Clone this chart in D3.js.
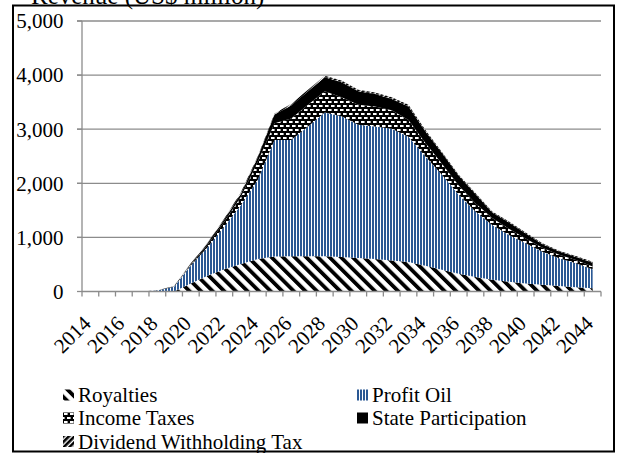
<!DOCTYPE html>
<html>
<head>
<meta charset="utf-8">
<script src="https://cdn.jsdelivr.net/npm/d3@7"></script>
<style>
  html, body { margin: 0; padding: 0; background: #fff; }
  svg { display: block; }
  text { font-family: "Liberation Serif", "Times New Roman", serif; fill: #000; }
</style>
</head>
<body>
<svg id="chart" width="624" height="453"></svg>
<script>
// ---- Data (US$ million) ----
const years = ["2014","2015","2016","2017","2018","2019","2020","2021","2022","2023","2024","2025","2026","2027","2028","2029","2030","2031","2032","2033","2034","2035","2036","2037","2038","2039","2040","2041","2042","2043","2044"];
const royalties          = [0,0,0,0,0,0,150,290,410,510,600,645,650,650,650,640,620,600,575,545,475,400,330,270,215,180,150,125,100,80,60];
const profitOil          = [0,0,0,0,20,90,330,530,790,1090,1465,2155,2150,2400,2660,2600,2460,2450,2435,2315,2025,1760,1460,1210,1015,865,740,610,515,440,350];
const incomeTaxes        = [0,0,0,0,2,5,20,40,90,155,335,310,400,400,390,350,370,370,340,310,250,200,170,150,130,115,90,75,65,60,50];
const stateParticipation = [0,0,0,0,2,3,10,30,40,55,80,160,240,250,260,280,250,230,210,250,210,200,180,170,100,115,90,65,60,60,70];
const dividendTax        = [0,0,0,0,1,2,10,10,20,30,20,20,30,30,30,30,30,30,30,30,30,20,20,20,20,20,20,15,15,15,20];
const seriesNames = ["Royalties","Profit Oil","Income Taxes","State Participation","Dividend Withholding Tax"];
const yTicks = [0,1000,2000,3000,4000,5000];
const xLabels = ["2014","2016","2018","2020","2022","2024","2026","2028","2030","2032","2034","2036","2038","2040","2042","2044"];
const titleText = "Revenue (US$ million)";

// ---- Layout ----
const svg = d3.select("#chart");
const plot = {left: 82, right: 601, top: 21, bottom: 291.5};
const FS = "21px";

const defs = svg.append("defs");
// Royalties: wide downward diagonal "\"
const pR = defs.append("pattern").attr("id","pRoy").attr("patternUnits","userSpaceOnUse")
  .attr("width",8.2).attr("height",8.2).attr("patternTransform","rotate(-45)");
pR.append("rect").attr("width",8.2).attr("height",8.2).attr("fill","#fff");
pR.append("rect").attr("width",3.8).attr("height",8.2).attr("fill","#000");
// Profit oil: blue vertical stripes
const pP = defs.append("pattern").attr("id","pPO").attr("patternUnits","userSpaceOnUse")
  .attr("width",3).attr("height",3);
pP.append("rect").attr("width",3).attr("height",3).attr("fill","#fff");
pP.append("rect").attr("width",2).attr("height",3).attr("fill","#2A5894");
// Income taxes: black with staggered white dashes
const pI = defs.append("pattern").attr("id","pIT").attr("patternUnits","userSpaceOnUse")
  .attr("width",6).attr("height",8);
pI.append("rect").attr("width",6).attr("height",8).attr("fill","#000");
pI.append("rect").attr("x",1).attr("y",1).attr("width",3.6).attr("height",2).attr("fill","#fff");
pI.append("rect").attr("x",4).attr("y",5).attr("width",3.6).attr("height",2).attr("fill","#fff");
pI.append("rect").attr("x",-2).attr("y",5).attr("width",3.6).attr("height",2).attr("fill","#fff");
// Dividend withholding: upward diagonal "/"
const pD = defs.append("pattern").attr("id","pDWT").attr("patternUnits","userSpaceOnUse")
  .attr("width",4).attr("height",4).attr("patternTransform","rotate(45)");
pD.append("rect").attr("width",4).attr("height",4).attr("fill","#fff");
pD.append("rect").attr("width",2.6).attr("height",4).attr("fill","#000");

const fills = ["url(#pRoy)","url(#pPO)","url(#pIT)","#000","url(#pDWT)"];

const x = d3.scaleBand().domain(years).range([plot.left, plot.right]).padding(0);
const y = d3.scaleLinear().domain([0,5000]).range([plot.bottom, plot.top]);
const cx = yr => x(yr) + x.bandwidth()/2;

// gridlines
svg.append("g").selectAll("line").data(yTicks.filter(d => d > 0)).join("line")
  .attr("x1", plot.left - 5).attr("x2", plot.right)
  .attr("y1", d => y(d)).attr("y2", d => y(d))
  .attr("stroke","#8c8c8c").attr("stroke-width",1.3);

// stacked areas
const table = years.map((yr,i) => ({year: yr, r: royalties[i], p: profitOil[i], it: incomeTaxes[i], sp: stateParticipation[i], d: dividendTax[i]}));
const stack = d3.stack().keys(["r","p","it","sp","d"]);
const layers = stack(table);
const area = d3.area().x(d => cx(d.data.year)).y0(d => y(d[0])).y1(d => y(d[1]));
svg.append("g").selectAll("path").data(layers).join("path")
  .attr("d", area).attr("fill", (d,i) => fills[i]);

// axes
const xAxis = svg.append("g").attr("transform",`translate(0,${plot.bottom})`);
xAxis.append("line").attr("x1",plot.left).attr("x2",plot.right).attr("stroke","#8c8c8c").attr("stroke-width",1.3);
const bounds = years.map(yr => x(yr)).concat([plot.right]);
xAxis.selectAll("line.tk").data(bounds).join("line").attr("class","tk")
  .attr("x1", d => d).attr("x2", d => d).attr("y1",0).attr("y2",5)
  .attr("stroke","#8c8c8c").attr("stroke-width",1.3);
xAxis.selectAll("text").data(xLabels).join("text")
  .attr("transform", d => `translate(${cx(d)-3.5},${28}) rotate(-45)`)
  .attr("text-anchor","end").attr("dy","0.35em")
  .style("font-size",FS).text(d => d);

const yAxis = svg.append("g");
yAxis.append("line").attr("x1",plot.left).attr("x2",plot.left).attr("y1",plot.top).attr("y2",plot.bottom)
  .attr("stroke","#8c8c8c").attr("stroke-width",1.3);
yAxis.selectAll("line.tk").data(yTicks).join("line").attr("class","tk")
  .attr("x1", plot.left-5).attr("x2", plot.left).attr("y1", d => y(d)).attr("y2", d => y(d))
  .attr("stroke","#8c8c8c").attr("stroke-width",1.3);
yAxis.selectAll("text").data(yTicks).join("text")
  .attr("x", 63.5).attr("y", d => y(d)).attr("dy","0.35em").attr("text-anchor","end")
  .style("font-size",FS).text(d => d3.format(",")(d));

// title (cut off at top, as in the reference)
svg.append("text").attr("x",31).attr("y",3.5).style("font-size","25px").text(titleText);

// legend
const legendPos = [
  {name: seriesNames[0], fill: fills[0], x: 63, y: 395},
  {name: seriesNames[1], fill: fills[1], x: 357, y: 395},
  {name: seriesNames[2], fill: fills[2], x: 63, y: 418},
  {name: seriesNames[3], fill: fills[3], x: 357, y: 418},
  {name: seriesNames[4], fill: fills[4], x: 63, y: 441.5}
];
const lg = svg.append("g").selectAll("g").data(legendPos).join("g");
lg.append("rect").attr("x", d => d.x).attr("y", d => d.y - 5.5).attr("width",11).attr("height",11).attr("fill", d => d.fill);
lg.append("text").attr("x", d => d.x + 15).attr("y", d => d.y).attr("dy","0.35em")
  .style("font-size",FS).text(d => d.name);

// frame
svg.append("rect").attr("x",13).attr("y",5.5).attr("width",601).attr("height",446)
  .attr("fill","none").attr("stroke","#000").attr("stroke-width",2);
</script>
</body>
</html>
